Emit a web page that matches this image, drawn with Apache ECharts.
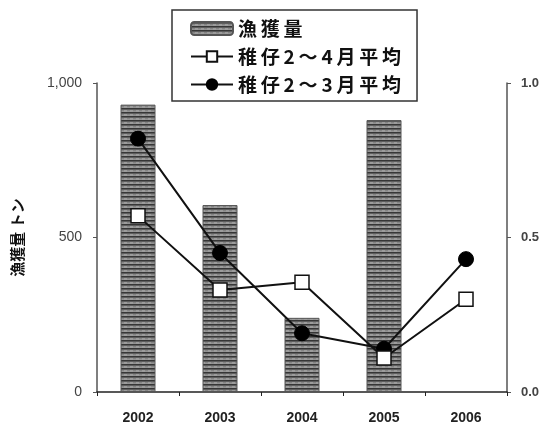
<!DOCTYPE html>
<html>
<head>
<meta charset="utf-8">
<script src="https://cdn.jsdelivr.net/npm/echarts@6/dist/echarts.min.js"></script>
<style>
  html, body { margin: 0; padding: 0; background: #fff; }
  #chart { width: 556px; height: 428px; }
</style>
</head>
<body>
<div id="chart"></div>
<script>
// Years on the category axis
const years = ['2002', '2003', '2004', '2005', '2006'];
// Catch (tonnes), left axis
const catchTons = [930, 605, 240, 880, null];
// Larval index, Feb–Apr mean (open squares), right axis
const larvaFebApr = [0.57, 0.33, 0.355, 0.11, 0.30];
// Larval index, Feb–Mar mean (filled circles), right axis
const larvaFebMar = [0.82, 0.45, 0.19, 0.14, 0.43];
// Axis tick values
const leftTicks = [0, 500, 1000];
const rightTicks = [0, 0.5, 1.0];

// Striped grey fill for the catch bars
function stripePattern() {
  const c = document.createElement('canvas');
  c.width = 6; c.height = 4;
  const g = c.getContext('2d');
  g.fillStyle = '#9c9c9c';
  g.fillRect(0, 0, 6, 4);
  g.fillStyle = '#363636';
  g.fillRect(0, 0, 6, 1.6);
  g.fillStyle = '#757575';
  g.fillRect(1, 2.4, 3, 0.8);
  return c;
}
const barFill = { image: stripePattern(), repeat: 'repeat' };

// Spread legend glyphs a little with thin spaces
const spaced = s => Array.from(s).join('\u2009');

const fontFamily = 'Arial, "Liberation Sans", "Noto Sans CJK JP", sans-serif';
const chart = echarts.init(document.getElementById('chart'), null, { renderer: 'canvas' });

chart.setOption({
  animation: false,
  backgroundColor: '#fff',
  textStyle: { fontFamily: fontFamily },
  grid: { left: 97, right: 49, top: 83, bottom: 36 },
  legend: {
    orient: 'vertical',
    left: 172,
    top: 10,
    padding: [9, 16, 7, 18],
    itemGap: 9,
    itemWidth: 42,
    itemHeight: 13,
    borderColor: '#333',
    borderWidth: 1.5,
    data: ['漁獲量', '稚仔2～4月平均', '稚仔2～3月平均'],
    formatter: name => spaced(name),
    textStyle: {
      fontSize: 19,
      fontWeight: 'bold',
      color: '#111',
      fontFamily: '"Noto Sans CJK JP", sans-serif'
    }
  },
  xAxis: {
    type: 'category',
    data: years,
    boundaryGap: true,
    axisLine: { lineStyle: { color: '#222', width: 1.5 } },
    axisTick: { show: true, inside: false, length: 4, alignWithLabel: false, lineStyle: { color: '#222' } },
    axisLabel: { fontSize: 14, fontWeight: 'bold', color: '#222', margin: 19 }
  },
  yAxis: [
    {
      type: 'value',
      min: leftTicks[0],
      max: leftTicks[leftTicks.length - 1],
      interval: 500,
      name: '漁獲量 トン',
      nameLocation: 'middle',
      nameRotate: 90,
      nameGap: 72,
      nameTextStyle: { fontSize: 15, fontWeight: 'bold', color: '#111', fontFamily: '"Noto Sans CJK JP", sans-serif' },
      splitLine: { show: false },
      axisLine: { show: true, lineStyle: { color: '#555', width: 1.5 } },
      axisTick: { show: true, length: 4, lineStyle: { color: '#555' } },
      axisLabel: {
        fontSize: 14, color: '#444', margin: 15,
        formatter: v => v.toLocaleString('en-US')
      }
    },
    {
      type: 'value',
      position: 'right',
      min: rightTicks[0],
      max: rightTicks[rightTicks.length - 1],
      interval: 0.5,
      splitLine: { show: false },
      axisLine: { show: true, lineStyle: { color: '#555', width: 1.5 } },
      axisTick: { show: true, length: 4, lineStyle: { color: '#555' } },
      axisLabel: {
        fontSize: 13, fontWeight: 'bold', color: '#444', margin: 14,
        formatter: v => v.toFixed(1)
      }
    }
  ],
  series: [
    {
      name: '漁獲量',
      type: 'bar',
      yAxisIndex: 0,
      data: catchTons,
      barWidth: 35,
      itemStyle: { color: barFill, borderColor: '#555', borderWidth: 1 },
      z: 2
    },
    {
      name: '稚仔2～3月平均',
      type: 'line',
      yAxisIndex: 1,
      data: larvaFebMar,
      symbol: 'circle',
      symbolSize: 15,
      lineStyle: { color: '#111', width: 2 },
      itemStyle: { color: '#000', borderColor: '#000', borderWidth: 1 },
      z: 3
    },
    {
      name: '稚仔2～4月平均',
      type: 'line',
      yAxisIndex: 1,
      data: larvaFebApr,
      symbol: 'rect',
      symbolSize: 14,
      lineStyle: { color: '#111', width: 2 },
      itemStyle: { color: '#fff', borderColor: '#111', borderWidth: 1.5 },
      z: 4
    }
  ]
});
</script>
</body>
</html>
